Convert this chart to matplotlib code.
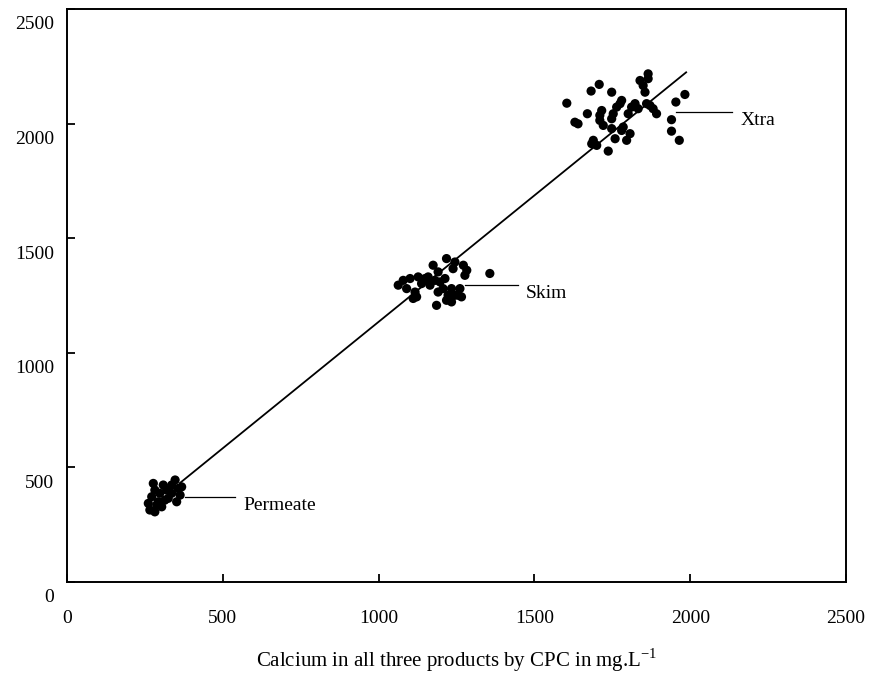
import numpy as np
import matplotlib.pyplot as plt
import matplotlib.transforms as mtransforms

plt.rcParams['font.family'] = ['Liberation Serif', 'DejaVu Serif']

# Permeate cluster
perm_x = [266, 261, 272, 282, 277, 293, 304, 298, 309, 320, 325, 336, 347, 357, 363, 352, 288, 314, 336, 368, 282]
perm_y = [314, 343, 372, 401, 430, 350, 328, 387, 423, 401, 365, 423, 445, 408, 379, 350, 336, 357, 387, 415, 306]

# Skim cluster
skim_x = [1063, 1079, 1090, 1101, 1117, 1122, 1111, 1127, 1138, 1149, 1159, 1165, 1175, 1181, 1191, 1197, 1191, 1186,
          1207, 1213, 1218, 1223, 1218, 1234, 1239, 1245, 1245, 1256, 1266, 1234, 1272, 1283, 1277, 1261, 1357]
skim_y = [1295, 1316, 1280, 1324, 1265, 1244, 1237, 1331, 1302, 1324, 1331, 1295, 1382, 1316, 1353, 1309, 1265, 1207,
          1280, 1324, 1411, 1251, 1229, 1280, 1367, 1396, 1251, 1251, 1244, 1222, 1382, 1360, 1338, 1280, 1346]

# Xtra cluster
xtra_x = [1604, 1630, 1640, 1670, 1682, 1708, 1716, 1710, 1710, 1721, 1748, 1748, 1753, 1764, 1775, 1780, 1748, 1759,
          1780, 1785, 1807, 1796, 1689, 1684, 1700, 1737, 1801, 1812, 1823, 1833, 1839, 1849, 1865, 1865, 1855, 1860,
          1871, 1881, 1892, 1954, 1983, 1940, 1940, 1965]
xtra_y = [2089, 2006, 1999, 2043, 2142, 2171, 2057, 2036, 2014, 1992, 2137, 2021, 2043, 2072, 2087, 2101, 1978, 1934,
          1970, 1985, 1956, 1927, 1927, 1912, 1905, 1880, 2043, 2072, 2087, 2065, 2188, 2166, 2217, 2196, 2137, 2087,
          2079, 2065, 2043, 2094, 2127, 2017, 1967, 1927]

# regression line
slope = 1.103
intercept = 32
fit_x = np.array([363, 1987])

# labels: name, leader start x, leader end x, y
labels = ['Permeate', 'Skim', 'Xtra']
lab_x0 = [379, 1277, 1954]
lab_x1 = [539, 1447, 2134]
lab_y = [370, 1295, 2049]

fig = plt.figure(figsize=(8.71, 6.81), dpi=100)
ax = fig.add_axes([0.0769, 0.1454, 0.8944, 0.8414])

for xs, ys in [(perm_x, perm_y), (skim_x, skim_y), (xtra_x, xtra_y)]:
    ax.scatter(xs, ys, s=44, c='black', edgecolors='none', zorder=3)

ax.plot(fit_x, slope * fit_x + intercept, color='black', lw=1.3)

for name, x0, x1, y in zip(labels, lab_x0, lab_x1, lab_y):
    ax.plot([x0, x1], [y, y], color='black', lw=0.9)
    ax.annotate(name, (x1, y), xytext=(6, 0), textcoords='offset points',
                ha='left', va='top', fontsize=14)

ax.set_xlim(0, 2500)
ax.set_ylim(0, 2500)
ax.set_xticks([0, 500, 1000, 1500, 2000, 2500])
ax.set_yticks([0, 500, 1000, 1500, 2000, 2500])
ax.tick_params(direction='in', length=6, width=1.3, labelsize=14)
ax.tick_params(axis='x', pad=20)
ax.tick_params(axis='y', pad=9)
for s in ax.spines.values():
    s.set_linewidth(1.4)

off = mtransforms.ScaledTranslation(0, -10 / 72, fig.dpi_scale_trans)
for lab in ax.get_yticklabels():
    lab.set_transform(lab.get_transform() + off)

ax.set_xlabel('Calcium in all three products by CPC in mg.L$^{\\mathregular{-1}}$', fontsize=15, labelpad=14)

fig.savefig('out.png', dpi=100)
